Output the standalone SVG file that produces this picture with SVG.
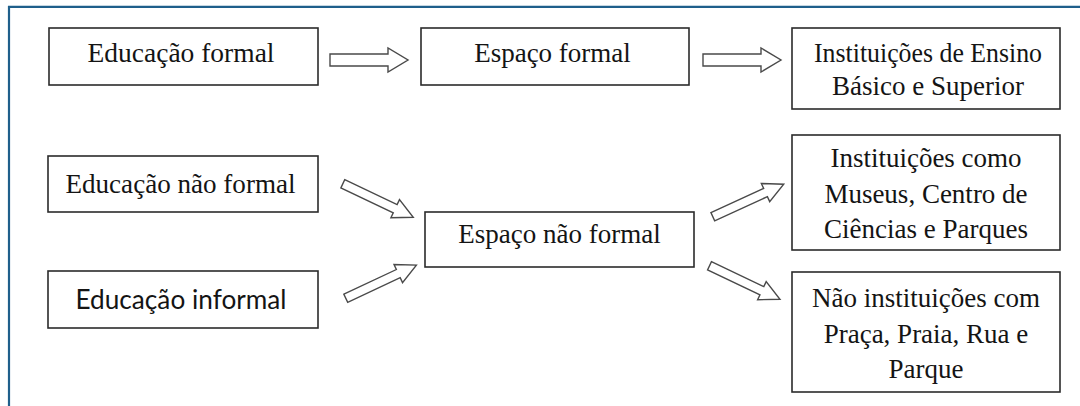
<svg xmlns="http://www.w3.org/2000/svg" xmlns:xlink="http://www.w3.org/1999/xlink" width="1080" height="406" viewBox="0 0 1080 406">
  <style>
    .box { fill: #ffffff; stroke: #2b2b2b; stroke-width: 1.6; }
    .t { font-family: "Liberation Serif", "Times New Roman", serif; font-size: 27px; fill: #141414; text-anchor: middle; }
    .ts { font-family: Lato, "Liberation Sans", sans-serif; font-size: 27px; fill: #141414; text-anchor: middle; }
    .arr { fill: #ffffff; stroke: #4a4a4a; stroke-width: 1.4; stroke-linejoin: miter; }
    .frame { fill: none; stroke: #1f5f8b; stroke-width: 2.2; }
  </style>
  <defs>
    <path id="harrow" d="M0,-6 H58 V-12 L78,0 L58,12 V6 H0 Z"/>
    <path id="darrow" d="M0,-4.5 H58 V-10 L78,0 L58,10 V4.5 H0 Z"/>
  </defs>
  <rect width="1080" height="406" fill="#ffffff"/>
  <path class="frame" d="M9,406 V6.8 H1080"/>

  <g id="connectors">
    <use xlink:href="#harrow" class="arr" transform="translate(330,60)"/>
    <use xlink:href="#harrow" class="arr" transform="translate(703,60)"/>
    <use xlink:href="#darrow" class="arr" transform="translate(342.8,183.8) rotate(25.4)"/>
    <use xlink:href="#darrow" class="arr" transform="translate(345.8,298.3) rotate(-25.2)"/>
    <use xlink:href="#darrow" class="arr" transform="translate(712.8,216.7) rotate(-24.6)"/>
    <use xlink:href="#darrow" class="arr" transform="translate(709.5,265.8) rotate(25.4)"/>
  </g>

  <g id="node-educacao-formal">
    <rect class="box" x="49" y="28" width="269" height="57"/>
    <text class="t" x="181" y="62" textLength="187" lengthAdjust="spacingAndGlyphs">Educação formal</text>
  </g>
  <g id="node-espaco-formal">
    <rect class="box" x="421" y="28" width="268" height="57"/>
    <text class="t" x="552.5" y="62">Espaço formal</text>
  </g>
  <g id="node-instituicoes-ensino">
    <rect class="box" x="792" y="28" width="268" height="81"/>
    <text class="t" x="928" y="62" textLength="228" lengthAdjust="spacingAndGlyphs">Instituições de Ensino</text>
    <text class="t" x="928" y="95">Básico e Superior</text>
  </g>
  <g id="node-educacao-nao-formal">
    <rect class="box" x="48" y="156" width="270" height="56"/>
    <text class="t" x="180.5" y="193" font-size="25" textLength="230" lengthAdjust="spacingAndGlyphs">Educação não formal</text>
  </g>
  <g id="node-educacao-informal">
    <rect class="box" x="48" y="271" width="270" height="57"/>
    <text class="ts" x="181" y="309" textLength="211" lengthAdjust="spacingAndGlyphs">Educação informal</text>
  </g>
  <g id="node-espaco-nao-formal">
    <rect class="box" x="425" y="212" width="269" height="55"/>
    <text class="t" x="559.5" y="243">Espaço não formal</text>
  </g>
  <g id="node-instituicoes-museus">
    <rect class="box" x="792" y="135" width="268" height="115"/>
    <text class="t" x="926" y="167">Instituições como</text>
    <text class="t" x="926" y="203">Museus, Centro de</text>
    <text class="t" x="926" y="238">Ciências e Parques</text>
  </g>
  <g id="node-nao-instituicoes">
    <rect class="box" x="792" y="272" width="268" height="120"/>
    <text class="t" x="926" y="307">Não instituições com</text>
    <text class="t" x="926" y="343">Praça, Praia, Rua e</text>
    <text class="t" x="926" y="378">Parque</text>
  </g>
</svg>
